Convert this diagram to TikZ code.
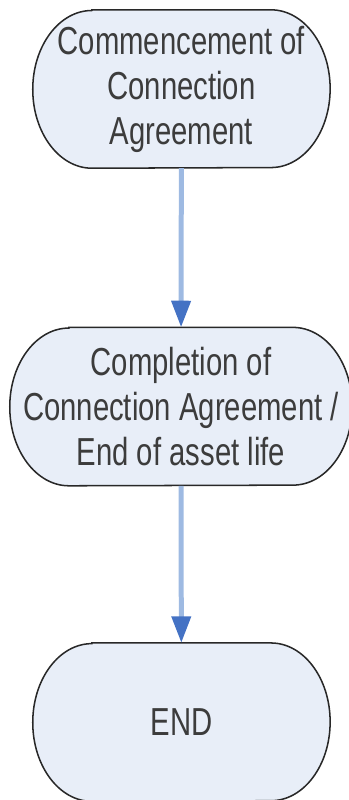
\documentclass[tikz,border=0pt]{standalone}
\usepackage{fontspec}
\setmainfont{Liberation Sans}
\usepackage{tikz}
\usetikzlibrary{arrows.meta,positioning,backgrounds}
\usepackage{xcolor}
\definecolor{termfill}{RGB}{232,238,248}
\definecolor{termline}{RGB}{40,40,40}
\definecolor{termtext}{RGB}{60,60,60}
\definecolor{flowline}{RGB}{158,186,226}
\definecolor{flowhead}{RGB}{68,114,196}
\tikzstyle{flow} = [line width=5*0.03cm, color=flowline, -{Triangle[length=0.8cm, width=0.56cm, color=flowhead]}]

\begin{document}
\begin{tikzpicture}[
    x=0.03cm, y=0.0225cm, yscale=1.3333,
    every node/.style={transform shape, font=\fontsize{25}{28.8}\selectfont, text=termtext},
    term/.style={rectangle, minimum height=3.55cm, inner sep=0pt, align=center},
    termshape/.style={draw=termline, line width=1.3pt, fill=termfill}
]
\useasboundingbox (0,0) rectangle (349,-800);

% Terminators
\node[term, minimum width=8.91cm] (start) at (181.5,-89) {Commencement of\\Connection\\Agreement};
\node[term, minimum width=10.26cm] (finish) at (181,-406.5) {Completion of\\Connection Agreement /\\End of asset life};
\node[term, minimum width=8.91cm] (theend) at (181.5,-722) {END};

% Outlines behind the text
\begin{scope}[on background layer]
\foreach \n in {start,finish,theend}
    \draw[termshape] ([xshift=1.775cm]\n.north west) -- ([xshift=-1.775cm]\n.north east)
        arc[start angle=90, end angle=-90, radius=1.775cm]
        -- ([xshift=1.775cm]\n.south west)
        arc[start angle=270, end angle=90, radius=1.775cm] -- cycle;
\end{scope}

% Arrows
\draw[flow] (start) -- (finish);
\draw[flow] (finish) -- (theend);

\end{tikzpicture}
\end{document}
